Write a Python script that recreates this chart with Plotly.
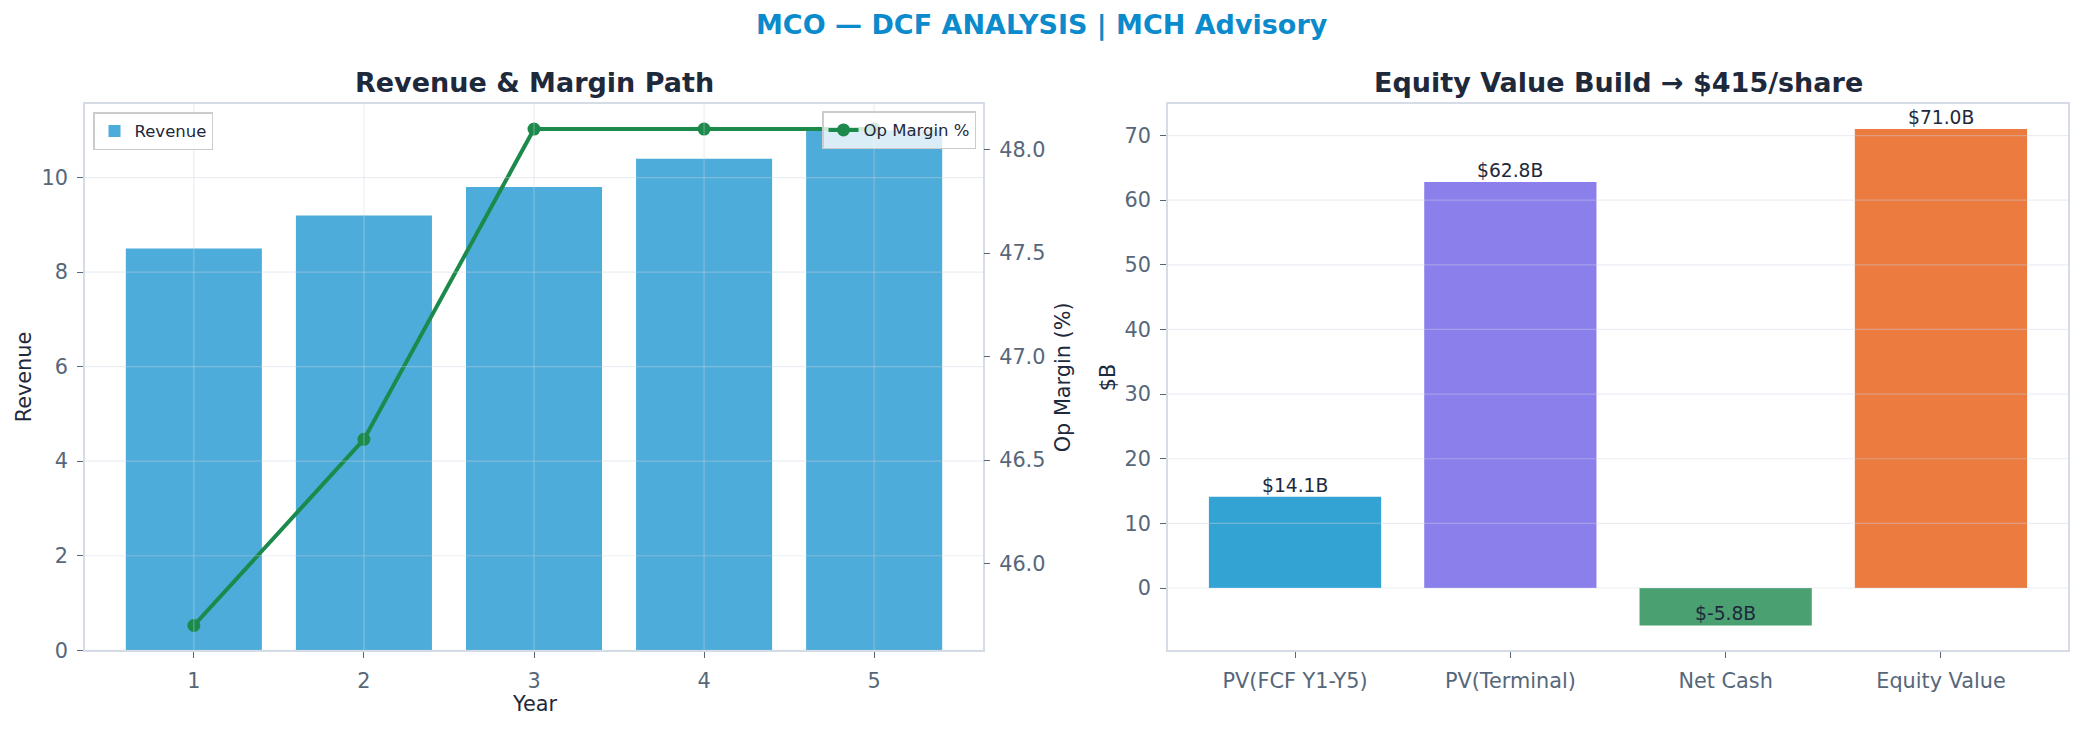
import plotly.graph_objects as go

# left panel: revenue bars + operating margin line
years = [1, 2, 3, 4, 5]
revenue = [8.5, 9.2, 9.8, 10.4, 11.0]
op_margin = [45.7, 46.6, 48.1, 48.1, 48.1]

# right panel: equity value build ($B)
build_labels = ["PV(FCF Y1-Y5)", "PV(Terminal)", "Net Cash", "Equity Value"]
build_values = [14.1, 62.8, -5.8, 71.0]
build_colors = ["#33A3D4", "#8A7FEB", "#4AA070", "#EC7B3F"]

rev_ticks = [0, 2, 4, 6, 8, 10]
margin_ticks = [46.0, 46.5, 47.0, 47.5, 48.0]
build_ticks = [0, 10, 20, 30, 40, 50, 60, 70]

FONT = "DejaVu Sans"
DARK = "#1E293B"
SLATE = "#56677A"
SPINE = "#D5DCE6"
GRID = "rgba(203,213,225,0.4)"
W, H = 2084, 742  # reference size, positions below are given in its pixels


def padded(lo, hi, frac=0.05):
    span = hi - lo
    return [lo - span * frac, hi + span * frac]


def px(x0, x1):
    return [x0 / W, x1 / W]


axis_style = dict(
    showline=True, linecolor=SPINE, linewidth=1.5, mirror=True,
    ticks="outside", ticklen=6, tickwidth=1.3, tickcolor=SLATE,
    tickfont=dict(family=FONT, size=20.8, color=SLATE),
    ticklabelstandoff=5, showgrid=False, zeroline=False,
)

fig = go.Figure()

fig.add_trace(go.Bar(
    x=years, y=revenue, width=0.8, name="Revenue",
    marker=dict(color="#4DACD9", line=dict(width=0)),
    xaxis="x", yaxis="y", legend="legend",
))
fig.add_trace(go.Scatter(
    x=years, y=op_margin, name="Op Margin %", mode="lines+markers",
    line=dict(color="#1B8A4B", width=4), marker=dict(size=13, color="#1B8A4B"),
    xaxis="x", yaxis="y2", legend="legend2",
))
fig.add_trace(go.Bar(
    x=build_labels, y=build_values, marker=dict(color=build_colors, line=dict(width=0)),
    showlegend=False, xaxis="x3", yaxis="y3",
))

ydom = [1 - 661 / H, 1 - 106 / H]

fig.update_layout(
    autosize=True,
    margin=dict(l=0, r=0, t=0, b=0),
    paper_bgcolor="white", plot_bgcolor="white",
    font=dict(family=FONT, color=DARK),
    bargap=0.2,
    xaxis=dict(axis_style, domain=px(85, 983), anchor="y",
               range=padded(years[0] - 0.4, years[-1] + 0.4), tickvals=years),
    yaxis=dict(axis_style, domain=ydom, anchor="x",
               range=[0, max(revenue) * 1.05], tickvals=rev_ticks),
    yaxis2=dict(axis_style, overlaying="y", side="right", anchor="x", showline=False,
                range=padded(min(op_margin), max(op_margin)), tickvals=margin_ticks,
                tickformat=".1f"),
    xaxis3=dict(axis_style, domain=px(1168, 2068), anchor="y3",
                range=padded(-0.4, len(build_labels) - 0.6)),
    yaxis3=dict(axis_style, domain=ydom, anchor="x3",
                range=padded(min(min(build_values), 0), max(build_values)),
                tickvals=build_ticks),
    legend=dict(x=93 / W, y=1 - 114 / H, xanchor="left", yanchor="top",
                bgcolor="rgba(255,255,255,0.8)", bordercolor="#CCCCCC", borderwidth=1.5,
                font=dict(family=FONT, size=16.5, color=DARK)),
    legend2=dict(x=976 / W, y=1 - 113 / H, xanchor="right", yanchor="top",
                 bgcolor="rgba(255,255,255,0.8)", bordercolor="#CCCCCC", borderwidth=1.5,
                 font=dict(family=FONT, size=16.5, color=DARK)),
)

# grid drawn over the bars, as in the source chart
shapes = []
for v in rev_ticks:
    shapes.append(dict(type="line", xref="x domain", x0=0, x1=1, yref="y", y0=v, y1=v,
                       line=dict(color=GRID, width=1.2), layer="above"))
for v in years:
    shapes.append(dict(type="line", xref="x", x0=v, x1=v, yref="y domain", y0=0, y1=1,
                       line=dict(color=GRID, width=1.2), layer="above"))
for v in build_ticks:
    shapes.append(dict(type="line", xref="x3 domain", x0=0, x1=1, yref="y3", y0=v, y1=v,
                       line=dict(color=GRID, width=1.2), layer="above"))
fig.update_layout(shapes=shapes)

annotations = [
    dict(text="<b>MCO — DCF ANALYSIS | MCH Advisory</b>", x=0.5, y=1 - 25 / H,
         font=dict(size=27, color="#0B8BCB")),
    dict(text="<b>Revenue & Margin Path</b>", x=534 / W, y=1 - 84 / H,
         font=dict(size=27, color=DARK)),
    dict(text="<b>Equity Value Build → $415/share</b>", x=1618 / W, y=1 - 84 / H,
         font=dict(size=27, color=DARK)),
    dict(text="Revenue", x=24 / W, y=1 - 383.5 / H, textangle=-90,
         font=dict(size=20.8, color=DARK)),
    dict(text="Op Margin (%)", x=1063 / W, y=1 - 383.5 / H, textangle=-90,
         font=dict(size=20.8, color=DARK)),
    dict(text="$B", x=1108 / W, y=1 - 383.5 / H, textangle=-90,
         font=dict(size=20.8, color=DARK)),
    dict(text="Year", x=534 / W, y=1 - 716 / H, font=dict(size=20.8, color=DARK)),
]
for a in annotations:
    a.update(xref="paper", yref="paper", showarrow=False, xanchor="center", yanchor="middle")
    a["font"]["family"] = FONT

for lab, v in zip(build_labels, build_values):
    annotations.append(dict(
        text=f"${v:.1f}B", x=lab, y=v, xref="x3", yref="y3", showarrow=False,
        xanchor="center", yanchor="bottom", borderpad=0,
        font=dict(family=FONT, size=18.7, color=DARK),
    ))
fig.update_layout(annotations=annotations)

# fill the browser window exactly, no page margin or scrollbars
fix_page = (
    "document.body.style.margin = '0';"
    "document.body.style.overflow = 'hidden';"
    "document.documentElement.style.overflow = 'hidden';"
)
fig.write_html("out.html", default_width="100vw", default_height="100vh",
               post_script=fix_page, config={"displayModeBar": False})
